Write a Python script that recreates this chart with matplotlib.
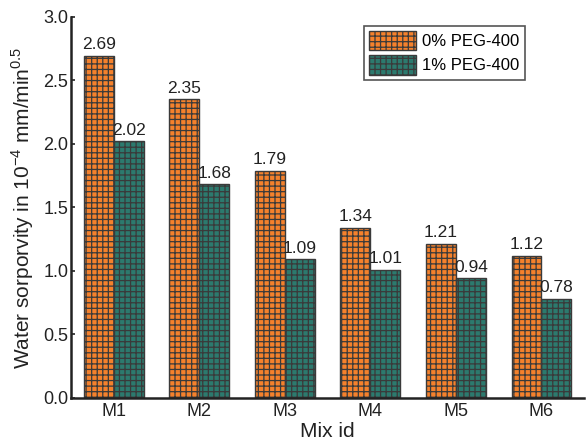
import numpy as np
import matplotlib
matplotlib.use('Agg')
import matplotlib.pyplot as plt

plt.rcParams['font.family'] = ['Liberation Sans', 'DejaVu Sans']
plt.rcParams['hatch.color'] = '#262626'
plt.rcParams['hatch.linewidth'] = 0.9
plt.rcParams['mathtext.fontset'] = 'custom'
plt.rcParams['mathtext.rm'] = 'Liberation Sans'

mixes = ['M1', 'M2', 'M3', 'M4', 'M5', 'M6']
peg0 = [2.69, 2.35, 1.79, 1.34, 1.21, 1.12]
peg1 = [2.02, 1.68, 1.09, 1.01, 0.94, 0.78]

fig = plt.figure(figsize=(5.86, 4.44), dpi=100)
ax = fig.add_axes([0.121, 0.104, 0.876, 0.858])

x = np.arange(len(mixes))
w = 0.35
b0 = ax.bar(x - w / 2, peg0, w, color='#F5812C', edgecolor='#3a3a3a', linewidth=1.0,
            hatch='+++', label='0% PEG-400')
b1 = ax.bar(x + w / 2, peg1, w, color='#2C7A6E', edgecolor='#3a3a3a', linewidth=1.0,
            hatch='+++', label='1% PEG-400')

for bars, vals in ((b0, peg0), (b1, peg1)):
    for bar, v in zip(bars, vals):
        ax.text(bar.get_x() + bar.get_width() / 2, v + 0.03, f'{v:.2f}',
                ha='center', va='bottom', fontsize=12.5, color='#222222')

ax.set_xlim(-0.5, 5.5)
ax.set_ylim(0, 3.0)
ax.set_yticks(np.arange(0, 3.01, 0.5))
ax.set_xticks(x)
ax.set_xticklabels(mixes)
ax.tick_params(axis='both', labelsize=13, colors='#222222', direction='in', length=3, width=1.2)
ax.tick_params(axis='y', pad=2)
ax.tick_params(axis='x', length=0, pad=4)
for s in ('top', 'right'):
    ax.spines[s].set_visible(False)
for s in ('left', 'bottom'):
    ax.spines[s].set_linewidth(1.8)
    ax.spines[s].set_color('#222222')

ax.set_xlabel('Mix id', fontsize=15, color='#222222', labelpad=1)
ax.set_ylabel('Water sorporvity in 10$^{-4}$ mm/min$^{0.5}$', fontsize=15, color='#222222', labelpad=5)

leg = ax.legend(loc='upper left', bbox_to_anchor=(0.571, 0.976), fontsize=12, fancybox=False,
                edgecolor='#555555', framealpha=1, handlelength=2.8, handleheight=1.4,
                borderpad=0.3, borderaxespad=0, labelspacing=0.3, handletextpad=0.4)
leg.get_frame().set_linewidth(1.2)

fig.savefig('out.png', dpi=100)
